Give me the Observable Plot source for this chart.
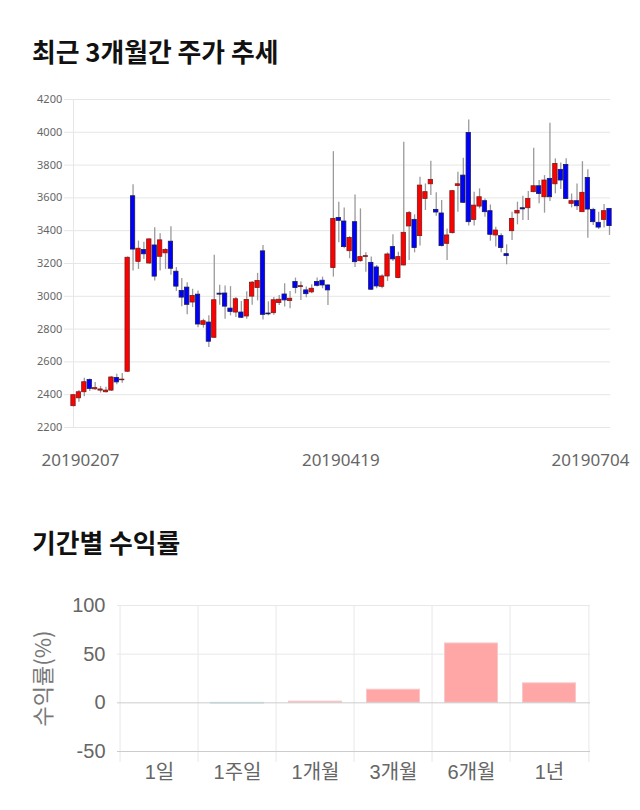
<!DOCTYPE html>
<html><head><meta charset="utf-8">
<script src="https://cdn.jsdelivr.net/npm/d3@7"></script>
<script src="https://cdn.jsdelivr.net/npm/@observablehq/plot@0.6"></script>
<style>
body{margin:0;background:#fff;width:640px;height:810px;position:relative;overflow:hidden;font-family:"Noto Sans CJK KR","Noto Sans",sans-serif;}
.title{position:absolute;left:32px;font-size:25.8px;font-weight:bold;color:#111;line-height:1;white-space:nowrap;}
#t1{top:38px}
#t2{top:529px}
#c1{position:absolute;left:0;top:85px}
#c2{position:absolute;left:0;top:590px}
</style></head>
<body>
<div class="title" id="t1">최근 3개월간 주가 추세</div>
<div id="c1"></div>
<div class="title" id="t2">기간별 수익률</div>
<div id="c2"></div>
<script>
// ---- Candlestick data (daily, 20190207 .. 20190704) ----
const opens  = [2330,2378,2415,2490,2433,2425,2415,2425,2502,2488,2540,3610,3210,3282,3200,3310,3241,3262,3333,3150,
                3033,3053,2962,3010,2826,2840,2747,3016,3017,2925,2901,2901,2877,2998,3051,3274,2895,2897,2959,3011,
                2971,3087,3056,3036,3024,3087,3095,3066,3172,3478,3456,3275,3452,3214,3240,3204,3176,3058,3121,3300,
                3111,3188,3426,3466,3367,3594,3683,3527,3505,3320,3385,3673,3736,3996,3466,3547,3580,3519,3371,3367,
                3257,3397,3505,3537,3537,3635,3671,3604,3716,3683,3771,3801,3564,3580,3513,3722,3527,3448,3466,3533];
const highs  = [2400,2425,2500,2495,2475,2450,2445,2510,2525,2530,3240,3680,3337,3330,3350,3418,3381,3290,3424,3175,
                3108,3083,3043,3033,2860,2881,3251,3067,3063,3059,2992,2968,3027,3091,3140,3310,2966,2992,3005,3076,
                3030,3111,3087,3056,3070,3111,3117,3070,3882,3574,3539,3364,3618,3533,3265,3239,3188,3131,3265,3375,
                3269,3939,3517,3497,3726,3685,3823,3631,3584,3411,3645,3756,3842,4075,3635,3655,3594,3557,3421,3381,
                3314,3513,3574,3610,3639,3903,3706,3736,4055,3838,3813,3838,3624,3685,3821,3771,3537,3513,3559,3533];
const lows   = [2325,2354,2388,2420,2425,2410,2410,2420,2460,2470,2535,3155,3164,3225,3195,3093,3154,3164,3128,3030,
                2937,2887,2931,2808,2806,2688,2745,2946,2860,2881,2871,2865,2860,2946,2972,2856,2881,2885,2944,2934,
                2924,3015,2975,2991,3015,3056,3046,2944,3117,3326,3290,3229,3176,3208,3147,3036,3046,3046,3091,3212,
                3107,3185,3218,3265,3306,3523,3614,3488,3300,3218,3380,3513,3568,3428,3428,3533,3482,3336,3300,3265,
                3192,3340,3436,3462,3462,3631,3564,3507,3578,3625,3651,3590,3539,3523,3511,3354,3432,3407,3417,3371];
const closes = [2397,2415,2476,2435,2440,2432,2425,2505,2475,2492,3235,3285,3290,3256,3347,3120,3341,3282,3168,3059,
                2992,2948,3002,2828,2848,2723,2976,3010,2937,2905,2982,2869,2978,3083,3093,2887,2890,2976,2979,2975,
                2985,3050,3062,3013,3046,3064,3066,3036,3472,3460,3300,3356,3208,3239,3245,3040,3060,3121,3255,3225,
                3239,3387,3507,3294,3675,3635,3710,3511,3306,3371,3641,3683,3570,3452,3553,3604,3513,3375,3401,3294,
                3245,3472,3521,3530,3594,3671,3624,3706,3604,3807,3706,3594,3580,3549,3631,3529,3452,3419,3519,3428];
const priceTicks = [2200,2400,2600,2800,3000,3200,3400,3600,3800,4000,4200];
const dateTickIndex  = [0, 49, 99];
const dateTickLabels = ["20190207","20190419","20190704"];

// ---- Period returns ----
const periods = ["1일","1주일","1개월","3개월","6개월","1년"];
const returns = [0, -0.8, 1.2, 13.5, 61, 20];
const returnTicks = [-50, 0, 50, 100];

// ---------------- Chart 1 ----------------
const candles = opens.map((o, i) => ({i, open: o, high: highs[i], low: lows[i], close: closes[i]}));
const labelShift = [7, 2, -19];
const chart1 = Plot.plot({
  width: 640, height: 400,
  marginTop: 14, marginBottom: 58, marginLeft: 69.75, marginRight: 27.75,
  x: {type: "band", domain: candles.map(d => d.i), padding: 0.2, axis: null, label: null},
  y: {domain: [2200, 4200], axis: null, label: null},
  color: {type: "identity"},
  style: {fontFamily: '"Noto Sans","Noto Sans CJK KR",sans-serif', color: "#666", background: "transparent"},
  marks: [
    Plot.ruleY(priceTicks, {stroke: "#e6e6e6", strokeWidth: 1, insetLeft: -6, insetRight: 2}),
    Plot.ruleX([0], {y1: 4200, y2: 2200, stroke: "#e6e6e6"}),
    Plot.axisY(priceTicks, {tickSize: 0, tickPadding: 8, fontSize: 11, fill: "#666", label: null,
      tickFormat: d => String(d)}),
    Plot.ruleX(candles, {x: "i", y1: "low", y2: "high", stroke: "#9a9a9a", strokeWidth: 1.3}),
    Plot.barY(candles, {x: "i", y1: "open", y2: "close",
      fill: d => d.close >= d.open ? "#ff0000" : "#0000ff",
      stroke: d => d.close >= d.open ? "#7a1a1a" : "#1a1a5a", strokeWidth: 0.8}),
    ...dateTickIndex.map((t, k) => Plot.axisX([t], {
      tickSize: 0, tickPadding: 26, fontSize: 17, fill: "#666", dx: labelShift[k], label: null,
      tickFormat: () => dateTickLabels[k]
    }))
  ]
});
document.getElementById("c1").appendChild(chart1);

// ---------------- Chart 2 ----------------
const rets = periods.map((p, i) => ({period: p, value: returns[i]}));
const half = (590 - 117) / periods.length / 2;
const chart2 = Plot.plot({
  width: 640, height: 210,
  marginTop: 15, marginBottom: 49, marginLeft: 117, marginRight: 50,
  x: {domain: periods, padding: 0, axis: null, label: null},
  y: {domain: [-50, 100], axis: null, label: null},
  color: {type: "identity"},
  style: {fontFamily: '"Liberation Sans","Noto Sans CJK KR",sans-serif', color: "#666", background: "transparent"},
  marks: [
    Plot.ruleY([50, 100], {stroke: "#e8e8e8"}),
    Plot.ruleX(periods, {x: d => d, y1: 100, y2: -50, dx: -half, insetBottom: -11, stroke: "#e8e8e8"}),
    Plot.ruleX(periods.slice(-1), {x: d => d, y1: 100, y2: -50, dx: half, insetBottom: -11, stroke: "#e8e8e8"}),
    Plot.barY(rets, {x: "period", y: "value",
      fill: d => d.value >= 0 ? "#ffa6a6" : "#a9d3d6",
      stroke: d => d.value >= 0 ? "#f6c9c9" : "#c6e0e2", strokeWidth: 1,
      insetLeft: 12.5, insetRight: 12.5}),
    Plot.ruleY([0], {stroke: "#cccccc"}),
    Plot.ruleY([-50], {stroke: "#cccccc"}),
    Plot.axisY(returnTicks, {tickSize: 0, tickPadding: 12, fontSize: 20, fill: "#666", label: null,
      tickFormat: d => String(d)}),
    Plot.axisX(periods, {tickSize: 0, tickPadding: 13, fontSize: 20, fill: "#666", label: null}),
    Plot.text(["수익률(%)"], {frameAnchor: "left", textAnchor: "middle", lineAnchor: "middle",
      dx: -74, rotate: -90, fontSize: 22, fill: "#777",
      fontFamily: '"Noto Sans CJK KR",sans-serif'})
  ]
});
document.getElementById("c2").appendChild(chart2);
</script>
</body></html>
